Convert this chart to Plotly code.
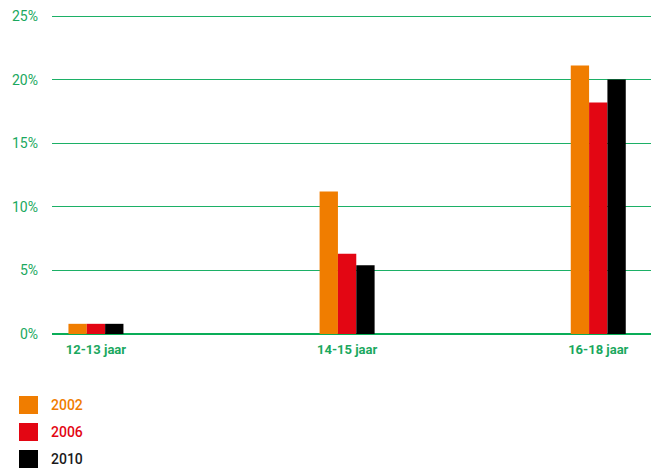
import plotly.graph_objects as go

categories = ["12-13 jaar", "14-15 jaar", "16-18 jaar"]
years = ["2002", "2006", "2010"]
values_2002 = [0.8, 11.2, 21.1]
values_2006 = [0.8, 6.3, 18.2]
values_2010 = [0.8, 5.4, 20.0]
colors = ["#f07d00", "#e30613", "#000000"]
text_colors = ["#f07d00", "#e30613", "#1a1a1a"]
y_ticks = [0, 5, 10, 15, 20, 25]
y_tick_labels = ["0%", "5%", "10%", "15%", "20%", "25%"]

green = "#1aa85e"
grid_green = "#1cb066"
W, H = 651, 470
ML, MR, MT, MB = 52, 0, 14, 136
pw, ph = W - ML - MR, H - MT - MB

fig = go.Figure()
for name, vals, col in zip(years, [values_2002, values_2006, values_2010], colors):
    fig.add_trace(go.Bar(
        x=categories, y=vals, name=name, showlegend=False,
        marker=dict(color=col, line=dict(width=0)),
    ))

# custom legend (pixel layout converted to paper coords)
def px_x(p):
    return (p - ML) / pw

def px_y(p):
    return (H - MB - p) / ph

shapes, annotations = [], []
for i, (name, col, tcol) in enumerate(zip(years, colors, text_colors)):
    top = 396 + 27 * i
    shapes.append(dict(type="rect", xref="paper", yref="paper",
                       x0=px_x(19), x1=px_x(38), y0=px_y(top + 18), y1=px_y(top),
                       fillcolor=col, line=dict(width=0)))
    annotations.append(dict(xref="paper", yref="paper", x=px_x(49), y=px_y(top + 9),
                            xanchor="left", yanchor="middle", showarrow=False,
                            text=name, font=dict(family="Roboto", size=14,
                                                 color=tcol, weight=500)))

fig.update_layout(
    width=W, height=H,
    barmode="group", bargap=0.781, bargroupgap=0,
    plot_bgcolor="white", paper_bgcolor="white",
    margin=dict(l=ML, r=MR, t=MT, b=MB, autoexpand=False),
    font=dict(family="Roboto", size=13, color=green),
    showlegend=False,
    shapes=shapes, annotations=annotations,
    xaxis=dict(type="category", range=[-0.175, 2.21], showgrid=False,
               showline=False, zeroline=False, ticks="", automargin=False,
               tickfont=dict(family="Roboto", size=13, color=green, weight="bold"),
               ticklabelstandoff=6),
    yaxis=dict(range=[0, 25.157], tickvals=y_ticks, ticktext=y_tick_labels,
               showgrid=True, gridcolor=grid_green, gridwidth=1.2,
               zeroline=True, zerolinecolor="#0aad58", zerolinewidth=1.5,
               showline=False, ticks="", automargin=False,
               tickfont=dict(family="Roboto", size=14, color=green),
               ticklabelstandoff=13),
)

fig.write_html("out.html", config={"displayModeBar": False},
               post_script="document.body.style.margin='0';")
